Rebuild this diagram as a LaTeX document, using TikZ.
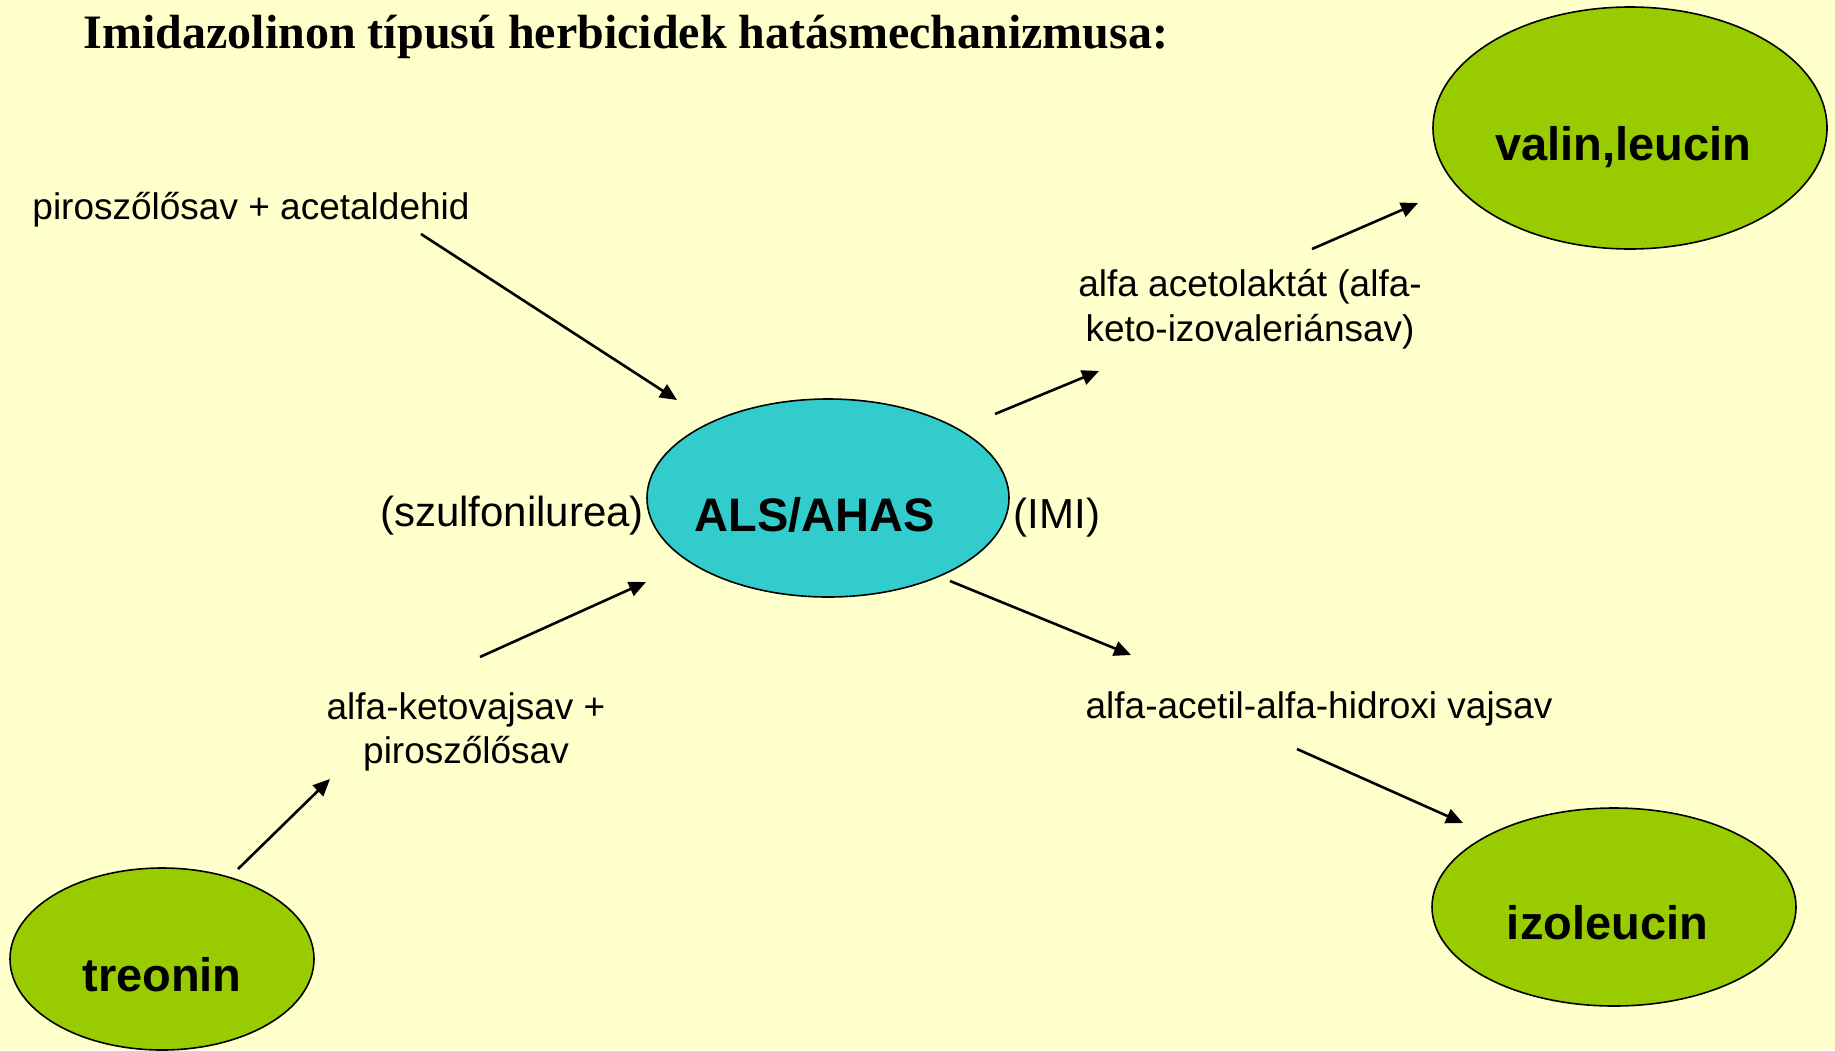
\documentclass[tikz,border=0pt]{standalone}
\usepackage{fontspec}
\setmainfont{Liberation Sans}
\newfontfamily\titlefont{Liberation Serif}
\usetikzlibrary{shapes.geometric,arrows.meta}
\definecolor{bgc}{HTML}{FFFFCC}
\definecolor{leafc}{HTML}{99CC00}
\definecolor{alsc}{HTML}{33CCCC}
\begin{document}
\begin{tikzpicture}[x=1pt,y=-1pt,
  blob/.style={ellipse,draw=black,line width=1.6pt,inner sep=0pt,font=\fontsize{47}{50}\selectfont\bfseries},
  lbl/.style={font=\fontsize{37}{44.5}\selectfont,inner sep=0pt,align=center},
  plbl/.style={font=\fontsize{42}{48}\selectfont,inner sep=0pt},
  flow/.style={line width=2.6pt,-{Triangle[length=17pt,width=15pt]}}]
\fill[bgc] (0,0) rectangle (1835,1050);
\useasboundingbox (0,0) rectangle (1835,1050);

\node[font=\titlefont\bfseries\fontsize{48}{52}\selectfont,inner sep=0pt] (title) at (626,37) {Imidazolinon típusú herbicidek hatásmechanizmusa:};

\node[blob,fill=leafc,minimum width=394pt,minimum height=242pt] (valin) at (1630,128) {\raisebox{-32pt}[0pt][0pt]{\hspace*{-13pt}valin,leucin}};
\node[blob,fill=alsc,minimum width=362pt,minimum height=198pt] (als) at (828,498) {\raisebox{-33pt}[0pt][0pt]{\hspace*{-27pt}ALS/AHAS}};
\node[blob,fill=leafc,minimum width=304pt,minimum height=182pt] (treonin) at (162,959) {\raisebox{-32pt}[0pt][0pt]{treonin}};
\node[blob,fill=leafc,minimum width=364pt,minimum height=198pt] (izo) at (1614,907) {\raisebox{-32pt}[0pt][0pt]{\hspace*{-13pt}izoleucin}};

\node[lbl] (pir) at (251,210) {piroszőlősav + acetaldehid};
\node[lbl] (aceto) at (1250,309) {alfa acetolaktát (alfa-\\keto-izovaleriánsav)};
\node[plbl] (szulf) at (512,516) {(szulfonilurea)};
\node[plbl] (imi) at (1057,518) {(IMI)};
\node[lbl] (keto) at (466,732) {alfa-ketovajsav +\\piroszőlősav};
\node[lbl] (acetil) at (1319,709) {alfa-acetil-alfa-hidroxi vajsav};

\coordinate (a1s) at (421,234); \coordinate (a1e) at (677,400);
\coordinate (a2s) at (995,414); \coordinate (a2e) at (1099,371);
\coordinate (a3s) at (1312,249); \coordinate (a3e) at (1418,203);
\coordinate (a4s) at (480,657); \coordinate (a4e) at (646,582);
\coordinate (a5s) at (238,869); \coordinate (a5e) at (330,779);
\coordinate (a6s) at (950,581); \coordinate (a6e) at (1131,655);
\coordinate (a7s) at (1297,749); \coordinate (a7e) at (1463,823);

\draw[flow] (a1s) -- (a1e);
\draw[flow] (a2s) -- (a2e);
\draw[flow] (a3s) -- (a3e);
\draw[flow] (a4s) -- (a4e);
\draw[flow] (a5s) -- (a5e);
\draw[flow] (a6s) -- (a6e);
\draw[flow] (a7s) -- (a7e);
\end{tikzpicture}
\end{document}
